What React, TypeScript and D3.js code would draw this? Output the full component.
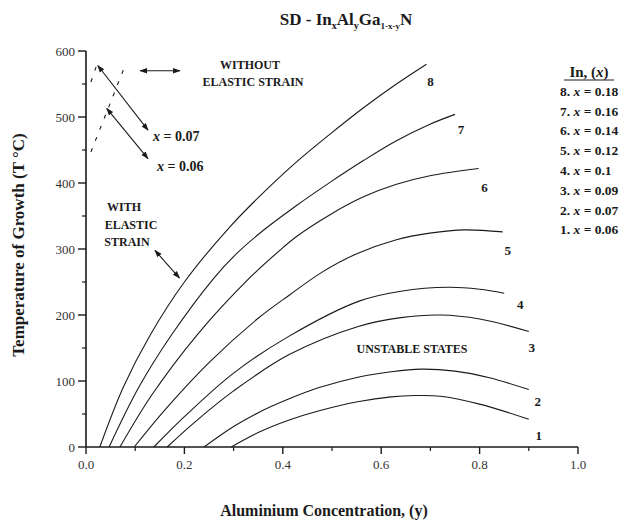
import React from "react";
import * as d3 from "d3";

// indium fraction of each curve, 1..8
const indium = [0.06, 0.07, 0.09, 0.1, 0.12, 0.14, 0.16, 0.18];

// spinodal curves with elastic strain: Al concentration (y) vs growth temperature
const conc1 = [0.295, 0.35, 0.413, 0.474, 0.555, 0.62, 0.669, 0.72, 0.8, 0.9];
const temp1 = [0, 22, 41, 55, 69, 76, 78, 77, 65, 42];
const conc2 = [0.24, 0.3, 0.35, 0.413, 0.474, 0.555, 0.62, 0.68, 0.75, 0.82, 0.9];
const temp2 = [0, 31, 52, 73, 90, 106, 114, 118, 115, 105, 87];
const conc3 = [0.165, 0.22, 0.3, 0.413, 0.555, 0.64, 0.72, 0.8, 0.9];
const temp3 = [0, 37, 85, 140, 183, 196, 200, 194, 175];
const conc4 = [0.138, 0.2, 0.3, 0.413, 0.555, 0.64, 0.737, 0.8, 0.85];
const temp4 = [0, 46, 112, 168, 221, 236, 242, 239, 233];
const conc5 = [0.098, 0.16, 0.25, 0.35, 0.413, 0.48, 0.548, 0.631, 0.699, 0.77, 0.847];
const temp5 = [0, 56, 128, 195, 230, 265, 292, 314, 324, 329, 326];
const conc6 = [0.069, 0.133, 0.226, 0.331, 0.394, 0.428, 0.496, 0.564, 0.631, 0.699, 0.798];
const temp6 = [0, 78, 170, 255, 298, 319, 352, 379, 398, 411, 422];
const conc7 = [0.047, 0.107, 0.174, 0.26, 0.306, 0.36, 0.428, 0.496, 0.564, 0.631, 0.699, 0.75];
const temp7 = [0, 90, 170, 256, 293, 328, 366, 401, 434, 464, 489, 504];
const conc8 = [0.028, 0.076, 0.13, 0.2, 0.293, 0.36, 0.428, 0.496, 0.564, 0.631, 0.692];
const temp8 = [0, 91, 169, 250, 334, 385, 432, 474, 514, 550, 580];

// without elastic strain (dashed)
const freeConc06 = [0.01, 0.08];
const freeTemp06 = [447, 579];
const freeConc07 = [0.01, 0.022];
const freeTemp07 = [553, 579];

const xTicks = [0, 0.2, 0.4, 0.6, 0.8, 1.0];
const xMinor = [0.1, 0.3, 0.5, 0.7, 0.9];
const yTicks = [0, 100, 200, 300, 400, 500, 600];
const yMinor = [50, 150, 250, 350, 450, 550];

const concs = [conc1, conc2, conc3, conc4, conc5, conc6, conc7, conc8];
const temps = [temp1, temp2, temp3, temp4, temp5, temp6, temp7, temp8];
// label offset from the end of each curve (px)
const labelOff = [
  [10, 16], [9, 12], [3, 16], [16, 11], [5, 19], [6, 19], [6, 15], [4, 17],
];

const W = 624;
const H = 522;
const FONT = "'Liberation Serif', 'Times New Roman', serif";
const INK = "#1a1a1a";

export default function App() {
  const x = d3.scaleLinear().domain([0, 1]).range([86, 578]);
  const y = d3.scaleLinear().domain([0, 600]).range([447, 51]);

  const line = d3
    .line<[number, number]>()
    .x((d) => x(d[0]))
    .y((d) => y(d[1]))
    .curve(d3.curveCatmullRom.alpha(0.5));
  const straight = d3
    .line<[number, number]>()
    .x((d) => x(d[0]))
    .y((d) => y(d[1]));

  const curves = concs.map((c, i) => c.map((v, j) => [v, temps[i][j]] as [number, number]));

  const arrow = (x1: number, t1: number, x2: number, t2: number) => (
    <line
      x1={x(x1)}
      y1={y(t1)}
      x2={x(x2)}
      y2={y(t2)}
      stroke={INK}
      strokeWidth={1.1}
      markerEnd="url(#head)"
      markerStart="url(#headStart)"
    />
  );

  return (
    <svg
      width={W}
      height={H}
      style={{ position: "absolute", left: 0, top: 0, background: "#fff" }}
      fontFamily={FONT}
    >
      <defs>
        <marker id="head" viewBox="0 0 10 10" refX="9" refY="5" markerWidth="7" markerHeight="7" orient="auto">
          <path d="M0,1.5 L10,5 L0,8.5 z" fill={INK} />
        </marker>
        <marker id="headStart" viewBox="0 0 10 10" refX="1" refY="5" markerWidth="7" markerHeight="7" orient="auto">
          <path d="M10,1.5 L0,5 L10,8.5 z" fill={INK} />
        </marker>
      </defs>

      {/* title */}
      <text x={346} y={25} textAnchor="middle" fontSize={17} fontWeight="bold" fill={INK}>
        SD - In<tspan dy={4} fontSize={10}>x</tspan>
        <tspan dy={-4}>Al</tspan>
        <tspan dy={4} fontSize={10}>y</tspan>
        <tspan dy={-4}>Ga</tspan>
        <tspan dy={4} fontSize={9}>1-x-y</tspan>
        <tspan dy={-4}>N</tspan>
      </text>

      {/* axes */}
      <line x1={x(0)} x2={x(1)} y1={y(0)} y2={y(0)} stroke={INK} strokeWidth={1.6} />
      <line x1={x(0)} x2={x(0)} y1={y(0)} y2={y(600)} stroke={INK} strokeWidth={1.6} />
      {xTicks.map((t) => (
        <g key={"xt" + t}>
          <line x1={x(t)} x2={x(t)} y1={y(0)} y2={y(0) + 7} stroke={INK} strokeWidth={1.4} />
          <text x={x(t)} y={469} textAnchor="middle" fontSize={13} fill="#333">
            {d3.format(".1f")(t)}
          </text>
        </g>
      ))}
      {xMinor.map((t) => (
        <line key={"xm" + t} x1={x(t)} x2={x(t)} y1={y(0)} y2={y(0) + 4} stroke={INK} strokeWidth={1.2} />
      ))}
      {yTicks.map((t) => (
        <g key={"yt" + t}>
          <line x1={x(0) - 8} x2={x(0)} y1={y(t)} y2={y(t)} stroke={INK} strokeWidth={1.4} />
          <text x={x(0) - 11} y={y(t)} dy="0.35em" textAnchor="end" fontSize={13} fill="#333">
            {t}
          </text>
        </g>
      ))}
      {yMinor.map((t) => (
        <line key={"ym" + t} x1={x(0) - 4} x2={x(0)} y1={y(t)} y2={y(t)} stroke={INK} strokeWidth={1.2} />
      ))}

      {/* axis titles */}
      <text x={324} y={516} textAnchor="middle" fontSize={16} fontWeight="bold" fill={INK}>
        Aluminium Concentration, (y)
      </text>
      <text
        transform={`translate(24,${245}) rotate(-90)`}
        textAnchor="middle"
        fontSize={17}
        fontWeight="bold"
        fill={INK}
      >
        Temperature of Growth (T °C)
      </text>

      {/* curves */}
      {curves.map((pts, i) => (
        <path key={"c" + i} d={line(pts) || ""} fill="none" stroke={INK} strokeWidth={1.1} />
      ))}
      {curves.map((pts, i) => {
        const end = pts[pts.length - 1];
        return (
          <text
            key={"cl" + i}
            x={x(end[0]) + labelOff[i][0]}
            y={y(end[1]) + labelOff[i][1]}
            dy="0.35em"
            textAnchor="middle"
            fontSize={13}
            fontWeight="bold"
            fill={INK}
          >
            {i + 1}
          </text>
        );
      })}

      {/* without elastic strain */}
      <path
        d={straight(freeConc06.map((c, j) => [c, freeTemp06[j]] as [number, number])) || ""}
        fill="none"
        stroke={INK}
        strokeWidth={1.1}
        strokeDasharray="4 8"
      />
      <path
        d={straight(freeConc07.map((c, j) => [c, freeTemp07[j]] as [number, number])) || ""}
        fill="none"
        stroke={INK}
        strokeWidth={1.1}
        strokeDasharray="4 8"
      />
      {arrow(0.024, 578, 0.126, 480)}
      {arrow(0.042, 513, 0.126, 437)}
      {arrow(0.11, 570, 0.191, 570)}
      {arrow(0.14, 298, 0.19, 256)}

      <g fontSize={12} fontWeight="bold" fill={INK} textAnchor="middle">
        <text x={250} y={69}>WITHOUT</text>
        <text x={253} y={86}>ELASTIC STRAIN</text>
        <text x={124} y={211}>WITH</text>
        <text x={131} y={229}>ELASTIC</text>
        <text x={127} y={246}>STRAIN</text>
        <text x={412} y={353}>UNSTABLE STATES</text>
      </g>
      <g fontSize={14} fontWeight="bold" fill={INK}>
        <text x={153} y={141}>
          <tspan fontStyle="italic">x</tspan> = 0.07
        </text>
        <text x={157} y={171}>
          <tspan fontStyle="italic">x</tspan> = 0.06
        </text>
      </g>

      {/* legend */}
      <text x={589} y={77} textAnchor="middle" fontSize={15} fontWeight="bold" fill={INK}>
        In, (<tspan fontStyle="italic">x</tspan>)
      </text>
      <line x1={564} x2={614} y1={80} y2={80} stroke={INK} strokeWidth={1} />
      {indium
        .map((v, i) => ({ v, n: i + 1 }))
        .reverse()
        .map((d, k) => (
          <text key={"lg" + d.n} x={560} y={91 + k * 19.8} dy="0.35em" fontSize={13.5} fontWeight="bold" fill={INK}>
            {d.n}.{"  "}
            <tspan fontStyle="italic">x</tspan> = {String(d.v)}
          </text>
        ))}
    </svg>
  );
}
